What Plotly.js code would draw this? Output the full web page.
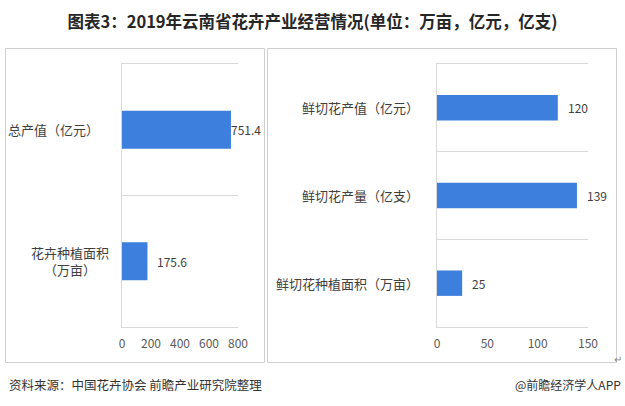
<!DOCTYPE html>
<html>
<head>
<meta charset="utf-8">
<script src="https://cdn.plot.ly/plotly-3.0.1.min.js"></script>
<style>
  html, body { margin: 0; padding: 0; background: #fff; }
  #chart { width: 625px; height: 406px; }
</style>
</head>
<body>
<div id="chart"></div>
<script>
// 左图：花卉总体
const leftCats = ['总产值（亿元）', '花卉种植面积<br>（万亩）'];
const leftVals = [751.4, 175.6];
const leftTicks = [0, 200, 400, 600, 800];

// 右图：鲜切花
const rightCats = ['鲜切花产值（亿元）', '鲜切花产量（亿支）', '鲜切花种植面积（万亩）'];
const rightVals = [120, 139, 25];
const rightTicks = [0, 50, 100, 150];

const titleText = '图表3：2019年云南省花卉产业经营情况(单位：万亩，亿元，亿支)';
const sourceText = '资料来源：中国花卉协会 前瞻产业研究院整理';
const brandText = '@前瞻经济学人APP';

const W = 625, H = 406;
const px = x => x / W;
const py = y => 1 - y / H;

const FONT = '"Noto Sans CJK SC", "Microsoft YaHei", sans-serif';
const barColor = '#3d7fdc';
const gridColor = '#d9d9d9';
const textColor = '#404040';

const data = [
  {
    type: 'bar', orientation: 'h',
    x: leftVals, y: leftCats,
    xaxis: 'x', yaxis: 'y',
    width: 0.29,
    marker: { color: barColor },
    hoverinfo: 'none'
  },
  {
    type: 'bar', orientation: 'h',
    x: rightVals, y: rightCats,
    xaxis: 'x2', yaxis: 'y2',
    width: 0.29,
    marker: { color: barColor },
    hoverinfo: 'none'
  }
];

function xAxis(domain, ticks, anchor) {
  return {
    domain: domain,
    anchor: anchor,
    range: [ticks[0], ticks[ticks.length - 1]],
    tickvals: ticks,
    showgrid: false,
    zeroline: false,
    // top and bottom border lines of the category grid
    showline: true,
    mirror: true,
    linecolor: gridColor,
    linewidth: 1,
    ticks: '',
    ticklabelstandoff: 6,
    tickfont: { family: FONT, size: 12, color: '#595959' },
    fixedrange: true
  };
}

function yAxis(domain, anchor) {
  return {
    domain: domain,
    anchor: anchor,
    type: 'category',
    autorange: 'reversed',
    tickson: 'boundaries',
    showgrid: true,
    gridcolor: gridColor,
    gridwidth: 1,
    showline: true,
    linecolor: gridColor,
    linewidth: 1,
    ticks: '',
    showticklabels: false,
    fixedrange: true
  };
}

const annotations = [];

// 左图分类标签
leftCats.forEach((c, i) => {
  annotations.push({
    xref: 'paper', yref: 'y',
    x: i === 0 ? px(101) : px(111), y: c,
    xanchor: 'right', yanchor: 'middle', align: 'center',
    text: c, showarrow: false,
    font: { family: FONT, size: 13, color: textColor }
  });
});
// 右图分类标签
rightCats.forEach(c => {
  annotations.push({
    xref: 'paper', yref: 'y2',
    x: px(421), y: c,
    xanchor: 'right', yanchor: 'middle',
    text: c, showarrow: false,
    font: { family: FONT, size: 13, color: textColor }
  });
});
// 数据标签
leftVals.forEach((v, i) => {
  annotations.push({
    xref: 'x', yref: 'y', x: v, y: leftCats[i],
    xanchor: 'left', yanchor: 'middle',
    xshift: v > 700 ? -2 : 8,
    text: String(v), showarrow: false,
    font: { family: FONT, size: 12, color: textColor }
  });
});
rightVals.forEach((v, i) => {
  annotations.push({
    xref: 'x2', yref: 'y2', x: v, y: rightCats[i],
    xanchor: 'left', yanchor: 'middle', xshift: 8,
    text: String(v), showarrow: false,
    font: { family: FONT, size: 12, color: textColor }
  });
});
// 来源
annotations.push({
  xref: 'paper', yref: 'paper', x: px(7), y: py(384),
  xanchor: 'left', yanchor: 'middle',
  text: sourceText, showarrow: false,
  font: { family: FONT, size: 12.5, color: '#333' }
});
annotations.push({
  xref: 'paper', yref: 'paper', x: px(623), y: py(384),
  xanchor: 'right', yanchor: 'middle',
  text: brandText, showarrow: false,
  font: { family: FONT, size: 12, color: '#333' }
});
annotations.push({
  xref: 'paper', yref: 'paper', x: px(624), y: py(358),
  xanchor: 'right', yanchor: 'middle',
  text: '↵', showarrow: false,
  font: { family: FONT, size: 10, color: '#888' }
});

const boxLine = { color: '#d0d0d0', width: 1 };
const shapes = [
  { type: 'rect', xref: 'paper', yref: 'paper', x0: px(5.5), x1: px(264.5), y0: py(362.5), y1: py(48.5), line: boxLine },
  { type: 'rect', xref: 'paper', yref: 'paper', x0: px(267.5), x1: px(616.5), y0: py(362.5), y1: py(48.5), line: boxLine }
];

const layout = {
  width: W, height: H,
  margin: { l: 0, r: 0, t: 0, b: 0 },
  paper_bgcolor: '#fff',
  plot_bgcolor: 'rgba(0,0,0,0)',
  showlegend: false,
  title: {
    text: '<b>' + titleText + '</b>',
    x: 0.5, xanchor: 'center',
    y: py(22), yanchor: 'middle',
    font: { family: FONT, size: 16.5, color: '#262626' }
  },
  xaxis: xAxis([px(122), px(238)], leftTicks, 'y'),
  yaxis: yAxis([py(327), py(64)], 'x'),
  xaxis2: xAxis([px(437), px(588)], rightTicks, 'y2'),
  yaxis2: yAxis([py(327), py(64)], 'x2'),
  annotations: annotations,
  shapes: shapes
};

Plotly.newPlot('chart', data, layout, { displayModeBar: false, staticPlot: true });
</script>
</body>
</html>
